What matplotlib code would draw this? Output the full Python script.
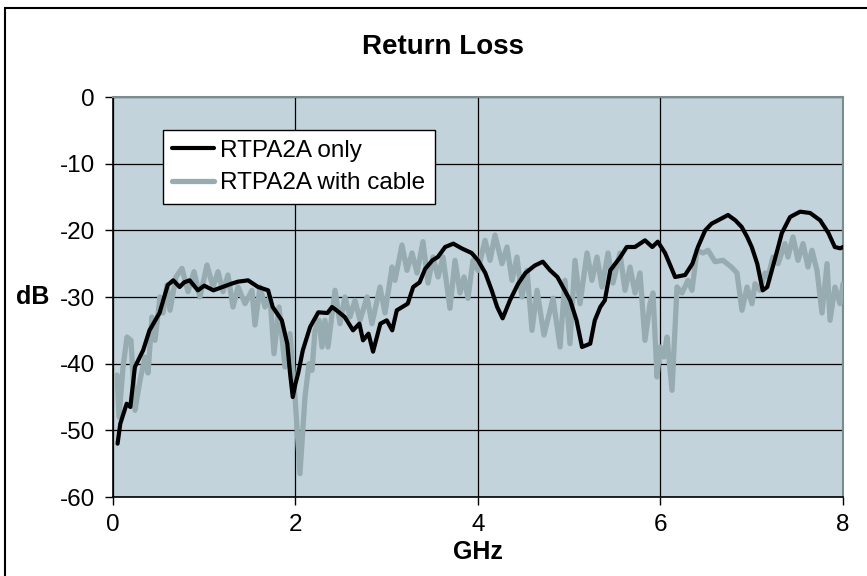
import matplotlib
matplotlib.use("Agg")
import matplotlib.pyplot as plt
from matplotlib.patches import Rectangle

plt.rcParams['font.family'] = ['Liberation Sans', 'DejaVu Sans']

title = "Return Loss"
x_label = "GHz"
y_label = "dB"
series_names = ["RTPA2A only", "RTPA2A with cable"]
x_ticks = [0, 2, 4, 6, 8]
y_ticks = [0, -10, -20, -30, -40, -50, -60]

# RTPA2A only (black)
f_only = [0.05, 0.08, 0.15, 0.19, 0.24, 0.33, 0.40, 0.51, 0.60, 0.66, 0.73, 0.78,
          0.84, 0.93, 1.00, 1.10, 1.20, 1.30, 1.37, 1.48, 1.59, 1.70, 1.75, 1.85,
          1.91, 1.94, 1.97, 2.00, 2.03, 2.08, 2.16, 2.25, 2.35, 2.40, 2.45, 2.54,
          2.63, 2.70, 2.74, 2.80, 2.85, 2.93, 3.00, 3.06, 3.11, 3.23, 3.29, 3.36,
          3.42, 3.50, 3.56, 3.64, 3.73, 3.82, 3.93, 4.00, 4.08, 4.15, 4.21, 4.27,
          4.35, 4.44, 4.52, 4.62, 4.71, 4.79, 4.87, 4.93, 5.01, 5.08, 5.14, 5.23,
          5.28, 5.34, 5.39, 5.45, 5.56, 5.63, 5.72, 5.83, 5.91, 5.97, 6.05, 6.13,
          6.16, 6.27, 6.35, 6.41, 6.49, 6.56, 6.63, 6.74, 6.82, 6.89, 6.95, 7.00,
          7.06, 7.09, 7.12, 7.17, 7.22, 7.28, 7.33, 7.42, 7.53, 7.64, 7.75, 7.84,
          7.91, 7.97, 8.00]
db_only = [-52, -49, -46, -46.5, -40.5, -38, -35, -32.4, -28.2, -27.5, -28.5, -27.8,
           -27.5, -29, -28.3, -29, -28.5, -28, -27.7, -27.5, -28.5, -29, -31.5, -33.5,
           -37, -41.4, -45, -43, -41.4, -38, -34.5, -32.3, -32.4, -31.5, -32, -33,
           -35, -34, -36.5, -35.5, -38.2, -34, -33.5, -35, -32, -31, -28.5, -27.8,
           -25.8, -24.5, -24, -22.5, -22, -22.7, -23.4, -24.5, -26.4, -29, -31.5, -33.2,
           -30.5, -28, -26.4, -25.3, -24.7, -26, -27, -28.5, -30.5, -33.5, -37.5, -37,
           -33.5, -31.5, -30.5, -26, -24, -22.5, -22.5, -21.5, -22.5, -21.7, -23.4, -26,
           -27, -26.7, -25, -22.5, -20, -19, -18.5, -17.7, -18.5, -19.5, -21, -22.5,
           -25, -27, -29, -28.5, -26, -23, -20.4, -18, -17.2, -17.4, -18.5, -20.4,
           -22.5, -22.7, -22.5]

# RTPA2A with cable (gray)
f_cable = [0.044, 0.066, 0.110, 0.153, 0.197, 0.241, 0.296, 0.351, 0.384, 0.427,
           0.460, 0.515, 0.548, 0.592, 0.625, 0.690, 0.756, 0.822, 0.888, 0.953,
           1.030, 1.096, 1.151, 1.205, 1.260, 1.315, 1.370, 1.447, 1.523, 1.556,
           1.611, 1.666, 1.721, 1.764, 1.819, 1.885, 1.940, 1.995, 2.049, 2.104,
           2.148, 2.181, 2.214, 2.258, 2.290, 2.323, 2.356, 2.433, 2.488, 2.542,
           2.597, 2.652, 2.707, 2.784, 2.838, 2.926, 2.981, 3.058, 3.090, 3.167,
           3.222, 3.277, 3.332, 3.397, 3.452, 3.507, 3.562, 3.616, 3.693, 3.748,
           3.803, 3.847, 3.890, 3.945, 4.000, 4.077, 4.132, 4.186, 4.263, 4.318,
           4.373, 4.427, 4.482, 4.537, 4.592, 4.647, 4.723, 4.822, 4.899, 4.953,
           5.008, 5.063, 5.118, 5.195, 5.249, 5.304, 5.359, 5.425, 5.479, 5.556,
           5.611, 5.666, 5.721, 5.775, 5.830, 5.885, 5.918, 5.962, 5.995, 6.038,
           6.071, 6.126, 6.181, 6.236, 6.301, 6.345, 6.400, 6.466, 6.521, 6.597,
           6.685, 6.784, 6.838, 6.893, 6.948, 7.003, 7.036, 7.090, 7.145, 7.178,
           7.233, 7.288, 7.364, 7.397, 7.452, 7.507, 7.562, 7.616, 7.660, 7.715,
           7.770, 7.825, 7.858, 7.912, 7.967, 8.000]
db_cable = [-41.7, -48, -40.5, -36, -36.5, -47, -42.5, -39, -41.4, -33,
            -36.5, -30, -32.4, -28.2, -32, -27, -25.7, -29.2, -26.2, -30,
            -25.2, -28.5, -26.2, -29.2, -26.7, -31.5, -28.5, -31, -29, -34.2,
            -28.5, -31.5, -30, -38.5, -31.5, -40.5, -35.5, -45, -56.5, -45,
            -40, -41, -35, -33.5, -37.5, -33.5, -37.5, -29, -34, -30,
            -33, -30.5, -33.5, -30, -34, -28.5, -32.4, -25.5, -27.5, -22.2,
            -26, -23.4, -26.4, -21.7, -27.9, -24, -27, -24, -31.7, -24.5,
            -29.4, -27, -30.2, -24.5, -26, -21.5, -24.5, -20.7, -25, -22.5,
            -27.5, -24, -30, -26, -35, -29, -35.7, -30.2, -37.5, -27.5,
            -37, -24.5, -31, -23.4, -27.5, -24, -28.5, -23.4, -27.9, -23.4,
            -29, -25.5, -29.4, -26.4, -36.5, -31, -29.4, -42, -37.5, -39,
            -36, -44, -28.5, -29.4, -27.5, -29, -23, -23.4, -23, -24.7,
            -24.5, -25.6, -26.4, -32, -28.5, -31, -28, -29, -26.4, -27,
            -24, -25, -22, -24, -21, -24.5, -22, -25.5, -23, -26,
            -32.4, -25, -33.5, -28.5, -31, -28]

fig = plt.figure(figsize=(8.67, 5.76), dpi=100)
fig.patch.set_facecolor('white')

# outer chart frame (extends past right and bottom edges)
fig.add_artist(Rectangle((5 / 867, -0.2), 1.2, 1.2 - 8 / 576,
                         transform=fig.transFigure, fill=False,
                         edgecolor='black', linewidth=1.5))

ax = fig.add_axes([113 / 867, 1 - 497 / 576, 730 / 867, 400 / 576])
ax.set_facecolor('#c3d3dc')

ax.plot(f_cable, db_cable, color='#97acb1', linewidth=3.8, label=series_names[1],
        solid_joinstyle='round', solid_capstyle='round', zorder=3)
ax.plot(f_only, db_only, color='black', linewidth=3.0, label=series_names[0],
        solid_joinstyle='round', solid_capstyle='round', zorder=4)

ax.set_xlim(0, 8)
ax.set_ylim(-60, 0)
ax.set_xticks(x_ticks)
ax.set_yticks(y_ticks)
ax.set_xticklabels([str(v) for v in x_ticks])
ax.set_yticklabels([str(v) for v in y_ticks])
ax.grid(True, color='black', linewidth=0.9, zorder=1)
ax.set_axisbelow(True)

ax.tick_params(axis='both', direction='out', length=6, width=1, labelsize=17.5,
               colors='black')
ax.tick_params(axis='y', pad=7)
ax.tick_params(axis='x', pad=6)

for s in ['left', 'bottom']:
    ax.spines[s].set_color('black')
    ax.spines[s].set_linewidth(1.2)
for s in ['top', 'right']:
    ax.spines[s].set_color('#7b8c8f')
    ax.spines[s].set_linewidth(1.5)

ax.set_xlabel(x_label, fontsize=18, fontweight='bold', labelpad=3)
ax.set_ylabel(y_label, fontsize=18, fontweight='bold', rotation=0,
              va='center', ha='center')
ax.yaxis.set_label_coords(-0.11, 0.5)

fig.text(443 / 867, 1 - 47 / 576, title, fontsize=20, fontweight='bold',
         ha='center', va='center')

handles, labels = ax.get_legend_handles_labels()
leg = ax.legend(handles[::-1], labels[::-1], loc='upper left',
                bbox_to_anchor=(0.068, 0.918), borderaxespad=0,
                fontsize=17.5, frameon=True, fancybox=False, framealpha=1,
                edgecolor='black', handlelength=1.7, handletextpad=0.25,
                borderpad=0.4, labelspacing=0.45)
leg.get_frame().set_linewidth(1.0)

fig.savefig('out.png', dpi=100)
